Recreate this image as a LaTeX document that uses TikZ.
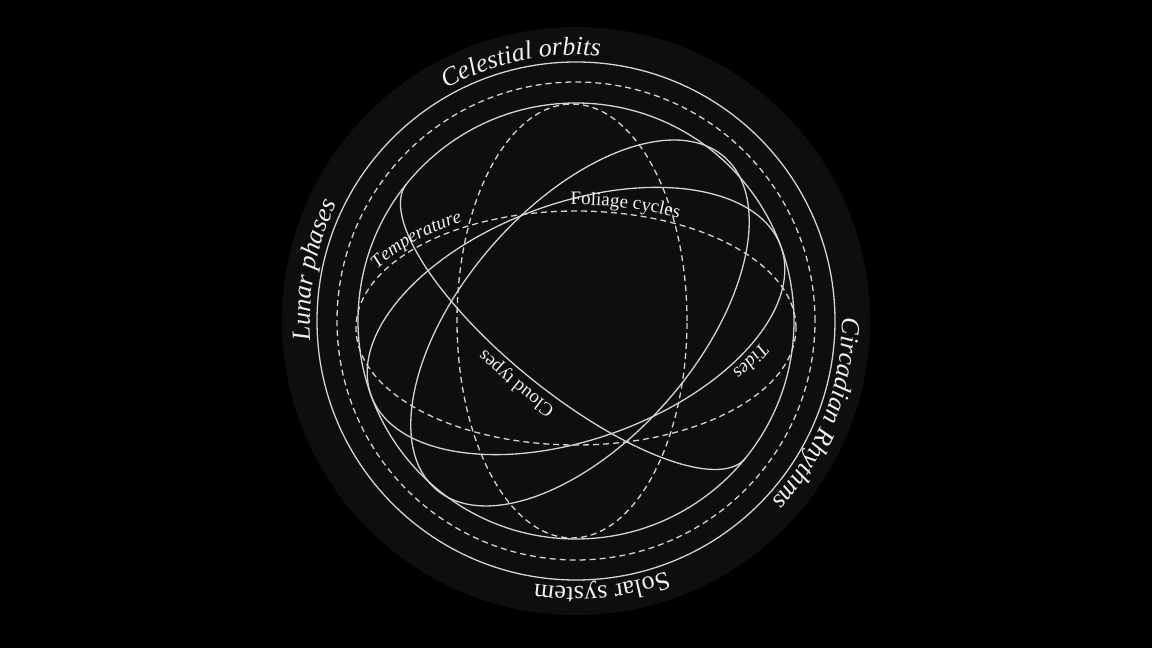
\documentclass[tikz,border=0pt]{standalone}
\usepackage{fontspec}
\setmainfont{Liberation Serif}
\usetikzlibrary{decorations.text}
\definecolor{discgray}{HTML}{0E0E0E}
\definecolor{linegray}{HTML}{D4D4D4}
\definecolor{textgray}{HTML}{F0F0F0}
\newcommand{\ringfont}{\fontsize{26}{31}\selectfont}
\newcommand{\orbitfont}{\fontsize{19}{23}\selectfont}
\tikzstyle{orbit} = [draw=linegray, line width=1.3pt]
\tikzstyle{dashorbit} = [orbit, dash pattern=on 6pt off 4pt]
\tikzstyle{arclabel} = [decorate, decoration={text along path, text align=center, text color=textgray}]

\begin{document}
\begin{tikzpicture}[x=1pt,y=1pt]
    \fill[black] (0,0) rectangle (1152,648);
    \useasboundingbox (0,0) rectangle (1152,648);
    \coordinate (c) at (576,327);
    \coordinate (ch) at (576,320);
    \coordinate (cv) at (572,327);
    \coordinate (c1) at (580,325);
    \fill[discgray] (c) circle[radius=294];
    \draw[orbit] (c) circle[radius=259];
    \draw[dashorbit] (c) circle[radius=239];
    \draw[orbit] (c) circle[radius=218];
    \draw[dashorbit] (ch) ellipse[x radius=220, y radius=117];
    \draw[dashorbit] (cv) ellipse[x radius=115, y radius=217];
    \begin{scope}[shift={(c)}, rotate=20]
        \draw[orbit] (0,0) ellipse[x radius=218, y radius=118];
        \itshape
        \path[arclabel, decoration={text={|\orbitfont|Tides}}]
            (-28:224 and 124) arc[start angle=-28, end angle=-66, x radius=224, y radius=124];
    \end{scope}
    \begin{scope}[shift={(c1)}, rotate=49]
        \draw[orbit] (0,0) ellipse[x radius=220, y radius=117];
    \end{scope}
    \begin{scope}[shift={(c)}, rotate=-39]
        \draw[orbit] (218,0) arc[start angle=0, end angle=-180, x radius=218, y radius=73];
        \path[arclabel, decoration={text={|\orbitfont|Cloud types}}]
            (-65:226 and 82) arc[start angle=-65, end angle=-119, x radius=226, y radius=82];
    \end{scope}
    \begin{scope}[shift={(ch)}]
        \path[arclabel, decoration={text={|\orbitfont|Foliage cycles}}]
            (108:226 and 123) arc[start angle=108, end angle=44, x radius=226, y radius=123];
        \itshape
        \path[arclabel, decoration={text={|\orbitfont|Temperature}}]
            (170:226 and 123) arc[start angle=170, end angle=108, x radius=226, y radius=123];
    \end{scope}
    \path[arclabel, decoration={text={|\ringfont|Solar system}}]
        (c) ++(-50:266) arc[start angle=-50, end angle=-119, radius=266];
    \begin{scope}
        \itshape
        \path[arclabel, decoration={text={|\ringfont|Celestial orbits}}]
            (c) ++(136:266) arc[start angle=136, end angle=68, radius=266];
        \path[arclabel, decoration={text={|\ringfont|Lunar phases}}]
            (c) ++(200:266) arc[start angle=200, end angle=138, radius=266];
        \path[arclabel, decoration={text={|\ringfont|Circadian Rhythms}}]
            (c) ++(16:266) arc[start angle=16, end angle=-58, radius=266];
    \end{scope}
\end{tikzpicture}
\end{document}
